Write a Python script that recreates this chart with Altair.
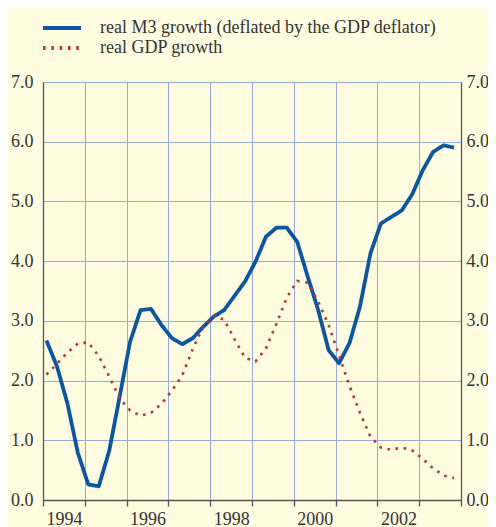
import altair as alt
import pandas as pd

# quarterly observations 1994 Q1 - 2003 Q4
years = [y for y in range(1994, 2004) for _ in range(4)]
quarters = [1, 2, 3, 4] * 10

m3_growth = [2.67, 2.24, 1.62, 0.79, 0.26, 0.23, 0.82, 1.73, 2.65, 3.18,
             3.20, 2.93, 2.71, 2.61, 2.71, 2.90, 3.07, 3.18, 3.42, 3.66,
             3.99, 4.41, 4.56, 4.56, 4.32, 3.74, 3.18, 2.51, 2.29, 2.63,
             3.24, 4.13, 4.63, 4.74, 4.85, 5.12, 5.52, 5.83, 5.94, 5.90]

gdp_growth = [2.10, 2.28, 2.47, 2.62, 2.64, 2.41, 2.07, 1.70, 1.50, 1.41,
              1.46, 1.61, 1.83, 2.09, 2.53, 2.91, 3.08, 3.02, 2.69, 2.38,
              2.32, 2.54, 2.95, 3.39, 3.67, 3.64, 3.32, 2.93, 2.42, 1.91,
              1.46, 1.06, 0.88, 0.84, 0.88, 0.83, 0.69, 0.53, 0.41, 0.37]

series_names = ["real M3 growth (deflated by the GDP deflator)", "real GDP growth"]
y_ticks = [0, 1, 2, 3, 4, 5, 6, 7]
x_ticks = list(range(1994, 2005))

rows = []
for yr, q, a, b in zip(years, quarters, m3_growth, gdp_growth):
    t = yr + (q - 1) / 4 + 1 / 12  # middle month of the quarter
    rows.append({"t": t, "series": series_names[0], "value": a})
    rows.append({"t": t, "series": series_names[1], "value": b})
df = pd.DataFrame(rows)

BLUE = "#0a56a6"
RED = "#b23a33"
GRID = "#98aadc"
BG = "#fffce0"
AXIS = "#555555"
TXT = "#333333"
FONT = "Liberation Serif, Times New Roman, serif"

x_enc = alt.X(
    "t:Q",
    scale=alt.Scale(domain=[1994, 2004], nice=False, zero=False),
    axis=alt.Axis(
        values=x_ticks, title=None, grid=True, gridColor=GRID, gridWidth=1,
        domainColor=AXIS, domainWidth=1.3, tickColor=AXIS, tickSize=6, tickWidth=1.3,
        labelExpr="(datum.value % 2 == 0 && datum.value < 2004) ? '' + datum.value : ''",
        labelOffset=21, labelFlush=False, labelOverlap=False, labelPadding=4,
        labelFont=FONT, labelFontSize=18, labelColor=TXT,
    ),
)

color_enc = alt.Color(
    "series:N",
    scale=alt.Scale(domain=series_names, range=[BLUE, RED]),
    legend=alt.Legend(
        title=None, orient="none", legendX=10, legendY=-63, direction="vertical",
        symbolType="M-4,0L4,0", symbolSize=90.25, symbolStrokeWidth=4,
        labelFont=FONT, labelFontSize=18, labelColor=TXT, labelOffset=29,
        rowPadding=2, padding=0, labelLimit=500,
    ),
)
dash_enc = alt.StrokeDash(
    "series:N",
    scale=alt.Scale(domain=series_names, range=[[1, 0], [2.6, 5.7]]),
    legend=alt.Legend(title=None),
)

y_scale = alt.Scale(domain=[0, 7], nice=False)

blue = alt.Chart(df).transform_filter(
    alt.datum.series == series_names[0]
).mark_line(strokeWidth=3.8, strokeJoin="round").encode(
    x=x_enc,
    y=alt.Y("value:Q", scale=y_scale, axis=alt.Axis(
        values=y_ticks, format=".1f", title=None, grid=True, gridColor=GRID,
        domainColor=AXIS, domainWidth=1.3, ticks=False, labelPadding=10,
        labelFont=FONT, labelFontSize=18, labelColor=TXT)),
    color=color_enc,
    strokeDash=dash_enc,
)

red = alt.Chart(df).transform_filter(
    alt.datum.series == series_names[1]
).mark_line(strokeWidth=2.6).encode(
    x=x_enc,
    y=alt.Y("value:Q", scale=y_scale, axis=alt.Axis(
        orient="right", values=y_ticks, format=".1f", title=None, grid=False,
        domainColor=AXIS, domainWidth=1.3, ticks=False, labelPadding=5,
        labelFont=FONT, labelFontSize=18, labelColor=TXT)),
    color=color_enc,
    strokeDash=dash_enc,
)

chart = alt.layer(blue, red).resolve_scale(y="independent").properties(
    width=418, height=418,
    autosize=alt.AutoSizeParams(type="none"),
    padding={"left": 35, "top": 74, "right": 27, "bottom": 27},
    background=BG,
).configure_view(stroke=None)

chart.save("out.html", embed_options={"renderer": "svg", "actions": False})
